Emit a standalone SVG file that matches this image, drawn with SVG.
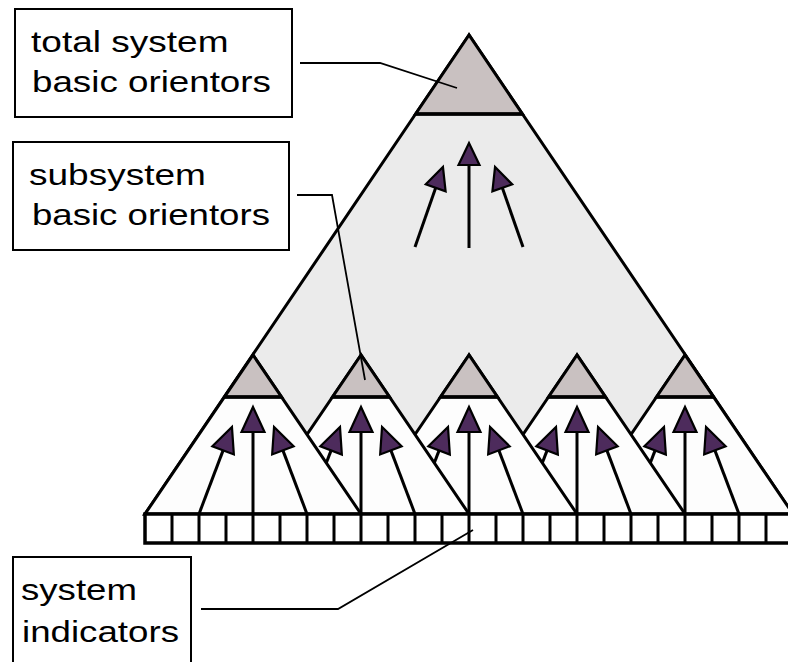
<svg xmlns="http://www.w3.org/2000/svg" width="788" height="662" viewBox="0 0 788 662">
<style>
.tri{fill:#fdfdfd;stroke:#000;stroke-width:3;stroke-linejoin:miter}
.big{fill:#ebebeb;stroke:#000;stroke-width:3;stroke-linejoin:miter}
.cap{fill:#c9c1c1;stroke:#000;stroke-width:3;stroke-linejoin:miter}
.sep{stroke:#000;stroke-width:3.5}
.cell{stroke:#000;stroke-width:3}
.sarr{stroke:#000;stroke-width:3;fill:none;marker-end:url(#hs)}
.barr{stroke:#000;stroke-width:3;fill:none;marker-end:url(#hb)}
.lead{stroke:#000;stroke-width:1.8;fill:none}
.box{fill:#fff;stroke:#000;stroke-width:2}
.lbl{font-family:"Liberation Sans",Arial,sans-serif;font-size:30px;fill:#000}
</style>
<defs>
<marker id="hs" markerUnits="userSpaceOnUse" markerWidth="30" markerHeight="30" refX="0" refY="11.5" orient="auto" overflow="visible">
<path d="M0,0 L25,11.5 L0,23 Z" fill="#4d2b5c" stroke="#000" stroke-width="2.2" stroke-linejoin="miter"/>
</marker>
<marker id="hb" markerUnits="userSpaceOnUse" markerWidth="30" markerHeight="30" refX="0" refY="10.5" orient="auto" overflow="visible">
<path d="M0,0 L22,10.5 L0,21 Z" fill="#4d2b5c" stroke="#000" stroke-width="2.2" stroke-linejoin="miter"/>
</marker>
</defs>

<g id="total-system">
<polygon class="big" points="469,35 145,514 793,514"/>
<polygon class="cap" points="469,35 415.6,114 522.4,114"/>
<line class="sep" x1="415.6" y1="114" x2="522.4" y2="114"/>
</g>

<g id="subsystem-5">
<polygon class="tri" points="685,355 577,514 793,514"/>
<polygon class="cap" points="685,355 656.5,397 713.5,397"/>
<line class="sep" x1="656.5" y1="397" x2="713.5" y2="397"/>
</g>
<g id="subsystem-4">
<polygon class="tri" points="577,355 469,514 685,514"/>
<polygon class="cap" points="577,355 548.5,397 605.5,397"/>
<line class="sep" x1="548.5" y1="397" x2="605.5" y2="397"/>
</g>
<g id="subsystem-3">
<polygon class="tri" points="469,355 361,514 577,514"/>
<polygon class="cap" points="469,355 440.5,397 497.5,397"/>
<line class="sep" x1="440.5" y1="397" x2="497.5" y2="397"/>
</g>
<g id="subsystem-2">
<polygon class="tri" points="361,355 253,514 469,514"/>
<polygon class="cap" points="361,355 332.5,397 389.5,397"/>
<line class="sep" x1="332.5" y1="397" x2="389.5" y2="397"/>
</g>
<g id="subsystem-1">
<polygon class="tri" points="253,355 145,514 361,514"/>
<polygon class="cap" points="253,355 224.5,397 281.5,397"/>
<line class="sep" x1="224.5" y1="397" x2="281.5" y2="397"/>
</g>

<g id="indicators">
<rect x="145" y="514" width="660" height="29" fill="#fff" stroke="#000" stroke-width="3.5"/>
<path class="cell" d="M172,514V543M199,514V543M226,514V543M253,514V543M280,514V543M307,514V543M334,514V543M361,514V543M388,514V543M415,514V543M442,514V543M469,514V543M496,514V543M523,514V543M550,514V543M577,514V543M604,514V543M631,514V543M658,514V543M685,514V543M712,514V543M739,514V543M766,514V543"/>
</g>

<g id="connectors">
<line class="barr" x1="469" y1="248" x2="469" y2="165"/>
<line class="barr" x1="415" y1="247" x2="435.7" y2="187.8"/>
<line class="barr" x1="523" y1="247" x2="502.3" y2="187.8"/>

<line class="sarr" x1="253" y1="514" x2="253" y2="432"/>
<line class="sarr" x1="199" y1="514" x2="223.1" y2="450.4"/>
<line class="sarr" x1="307" y1="514" x2="282.9" y2="450.4"/>

<line class="sarr" x1="361" y1="514" x2="361" y2="432"/>
<line class="sarr" x1="326.3" y1="463" x2="331.1" y2="450.4"/>
<line class="sarr" x1="415" y1="514" x2="390.9" y2="450.4"/>

<line class="sarr" x1="469" y1="514" x2="469" y2="432"/>
<line class="sarr" x1="434.3" y1="463" x2="439.1" y2="450.4"/>
<line class="sarr" x1="523" y1="514" x2="498.9" y2="450.4"/>

<line class="sarr" x1="577" y1="514" x2="577" y2="432"/>
<line class="sarr" x1="542.3" y1="463" x2="547.1" y2="450.4"/>
<line class="sarr" x1="631" y1="514" x2="606.9" y2="450.4"/>

<line class="sarr" x1="685" y1="514" x2="685" y2="432"/>
<line class="sarr" x1="650.3" y1="463" x2="655.1" y2="450.4"/>
<line class="sarr" x1="739" y1="514" x2="714.9" y2="450.4"/>

<polyline class="lead" points="300,63 380,63 457,88"/>
<polyline class="lead" points="297,195 332,195 365,380"/>
<polyline class="lead" points="201,609 338,609 473,530"/>
</g>

<g id="label-total">
<rect class="box" x="15" y="9" width="277" height="108"/>
<text class="lbl" transform="translate(31,52) scale(1.235,1)">total system</text>
<text class="lbl" transform="translate(32,92) scale(1.225,1)">basic orientors</text>
</g>
<g id="label-subsystem">
<rect class="box" x="13" y="142" width="276" height="108"/>
<text class="lbl" transform="translate(29,185) scale(1.234,1)">subsystem</text>
<text class="lbl" transform="translate(32,225) scale(1.22,1)">basic orientors</text>
</g>
<g id="label-indicators">
<rect class="box" x="13" y="557" width="178" height="120"/>
<text class="lbl" transform="translate(21,600) scale(1.221,1)">system</text>
<text class="lbl" transform="translate(22,642) scale(1.223,1)">indicators</text>
</g>
</svg>
